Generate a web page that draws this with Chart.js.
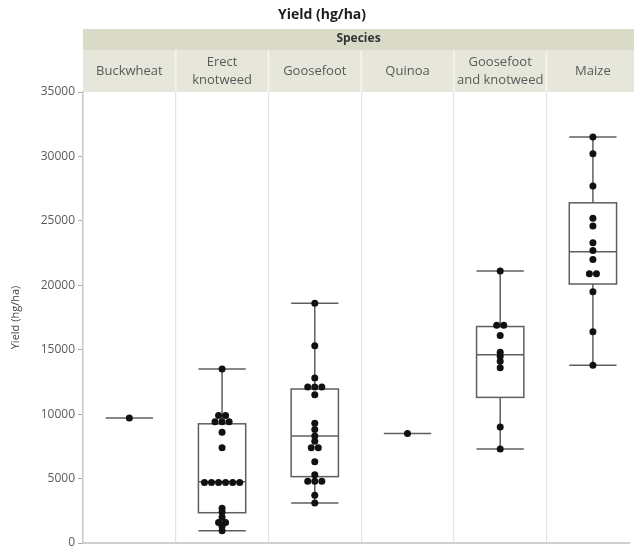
<!DOCTYPE html>
<html><head><meta charset="utf-8">
<script src="https://cdn.jsdelivr.net/npm/chart.js@4/dist/chart.umd.min.js"></script>
<style>html,body{margin:0;padding:0;background:#fff;}canvas{display:block;}</style>
</head><body>
<canvas id="c" width="634" height="550"></canvas>
<script>
// ---- data ----
const categories = [["Buckwheat"], ["Erect", "knotweed"], ["Goosefoot"], ["Quinoa"], ["Goosefoot", "and knotweed"], ["Maize"]];
const buckwheat = [9700];
const erectKnotweed = [13500, 9900, 9900, 9400, 9400, 9400, 8600, 7400, 4700, 4700, 4700, 4700, 4700, 4700, 2700, 2400, 2000, 1600, 1600, 1300, 950];
const goosefoot = [18600, 15300, 12800, 12100, 12100, 12100, 11500, 9300, 8800, 8300, 7900, 7400, 7400, 6300, 5300, 4800, 4800, 4800, 3700, 3100];
const quinoa = [8500];
const goosefootKnotweed = [21100, 16900, 16900, 16100, 14800, 14500, 14100, 13600, 9000, 7300];
const maize = [31500, 30200, 27700, 25200, 24600, 23300, 22700, 22000, 20900, 20900, 19500, 16400, 13800];
const seriesValues = [buckwheat, erectKnotweed, goosefoot, quinoa, goosefootKnotweed, maize];
const boxMin    = [9700,   950, 3100, 8500,  7300, 13800];
const boxQ1     = [9700,  2350, 5150, 8500, 11300, 20100];
const boxMedian = [9700,  4750, 8300, 8500, 14600, 22600];
const boxQ3     = [9700,  9250, 11950, 8500, 16800, 26400];
const boxMax    = [9700, 13500, 18600, 8500, 21100, 31500];
const yTicks = [0, 5000, 10000, 15000, 20000, 25000, 30000, 35000];
const chartTitle = "Yield (hg/ha)";
const groupTitle = "Species";
const yTitle = "Yield (hg/ha)";

// ---- build points (identical values spread side by side) ----
const DOT_STEP = 0.076;
const points = [];
seriesValues.forEach((vals, i) => {
  const counts = {};
  vals.forEach(v => counts[v] = (counts[v] || 0) + 1);
  const seen = {};
  vals.forEach(v => {
    const n = counts[v];
    const k = seen[v] = (seen[v] === undefined ? 0 : seen[v] + 1);
    points.push({x: i + 0.5 + (k - (n - 1) / 2) * DOT_STEP, y: v});
  });
});

const FONT = "'Open Sans', 'Noto Sans', sans-serif";
const BOX_HALF = 0.255;

const boxPlugin = {
  id: 'boxes',
  beforeDatasetsDraw(chart) {
    const {ctx, scales: {x, y}} = chart;
    ctx.save();
    ctx.strokeStyle = '#5e5e5e';
    ctx.lineWidth = 1.5;
    const line = (x1, y1, x2, y2) => { ctx.beginPath(); ctx.moveTo(x1, y1); ctx.lineTo(x2, y2); ctx.stroke(); };
    categories.forEach((c, i) => {
      const cx = x.getPixelForValue(i + 0.5);
      const hw = x.getPixelForValue(i + 0.5 + BOX_HALF) - cx;
      const pMin = y.getPixelForValue(boxMin[i]);
      const pQ1 = y.getPixelForValue(boxQ1[i]);
      const pMed = y.getPixelForValue(boxMedian[i]);
      const pQ3 = y.getPixelForValue(boxQ3[i]);
      const pMax = y.getPixelForValue(boxMax[i]);
      if (boxQ3[i] > boxQ1[i]) {
        line(cx, pMax, cx, pQ3);
        line(cx, pQ1, cx, pMin);
        line(cx - hw, pMax, cx + hw, pMax);
        line(cx - hw, pMin, cx + hw, pMin);
        ctx.strokeRect(cx - hw, pQ3, 2 * hw, pQ1 - pQ3);
        line(cx - hw, pMed, cx + hw, pMed);
      } else {
        line(cx - hw, pMed, cx + hw, pMed);
      }
    });
    ctx.restore();
  }
};

const headerPlugin = {
  id: 'header',
  afterDraw(chart) {
    const {ctx, chartArea: {left, top}, scales: {x}} = chart;
    const right = chart.width;
    ctx.save();
    ctx.fillStyle = '#dadac8';
    ctx.fillRect(left, 29, right - left, 21);
    ctx.fillStyle = '#e6e6da';
    ctx.fillRect(left, 50, right - left, top - 50);
    ctx.fillStyle = '#f3f3ec';
    for (let i = 1; i < categories.length; i++) {
      const px = x.getPixelForValue(i);
      ctx.fillRect(px - 1, 50, 2, top - 50);
    }
    ctx.textAlign = 'center';
    ctx.textBaseline = 'middle';
    ctx.fillStyle = '#1e1e1e';
    ctx.font = "bold 14px " + FONT;
    ctx.fillText(chartTitle, chart.width / 2 + 5, 15);
    ctx.fillStyle = '#333';
    ctx.font = "bold 12px " + FONT;
    ctx.fillText(groupTitle, (left + right) / 2, 39);
    ctx.fillStyle = '#5a5a5a';
    ctx.font = "13px " + FONT;
    categories.forEach((lines, i) => {
      const cx = x.getPixelForValue(i + 0.5);
      const cy = (50 + top) / 2;
      const lh = 18;
      lines.forEach((t, j) => {
        ctx.fillText(t, cx, cy + (j - (lines.length - 1) / 2) * lh);
      });
    });
    ctx.restore();
  }
};

new Chart(document.getElementById('c'), {
  type: 'scatter',
  data: {
    datasets: [{
      data: points,
      backgroundColor: '#111',
      borderColor: '#111',
      pointRadius: 3.5,
      borderWidth: 0
    }]
  },
  options: {
    responsive: false,
    animation: false,
    layout: {padding: {top: 92, right: 0, bottom: 0, left: 0}},
    plugins: {legend: {display: false}, tooltip: {enabled: false}},
    scales: {
      x: {
        type: 'linear', min: 0, max: 5.9,
        afterFit: s => { s.height = 7; s.paddingLeft = 0; s.paddingRight = 0; },
        ticks: {display: false, stepSize: 1, includeBounds: false},
        grid: {color: '#e4e4e4', drawTicks: false, lineWidth: 1.2},
        border: {color: '#cfcfcf', width: 2}
      },
      y: {
        type: 'linear', min: 0, max: 35000,
        afterBuildTicks: s => { s.ticks = yTicks.map(v => ({value: v})); },
        afterFit: s => { s.width = 83; s.paddingTop = 0; s.paddingBottom = 0; },
        ticks: {
          callback: v => String(v), color: '#5a5a5a', padding: 3,
          font: {family: FONT, size: 12}
        },
        grid: {drawOnChartArea: false, drawTicks: true, tickLength: 5, tickColor: '#aaa'},
        border: {color: '#c8c8c8', width: 1.5},
        title: {display: true, text: yTitle, color: '#444', font: {family: FONT, size: 11}, padding: {top: 9, bottom: 0}}
      }
    }
  },
  plugins: [boxPlugin, headerPlugin]
});
</script>
</body></html>
